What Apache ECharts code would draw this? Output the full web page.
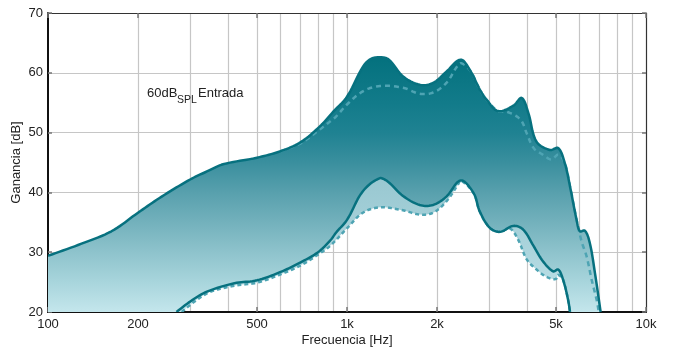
<!DOCTYPE html>
<html><head><meta charset="utf-8">
<script src="https://cdn.jsdelivr.net/npm/echarts@6/dist/echarts.min.js"></script>
<style>html,body{margin:0;padding:0;background:#fff}#c{width:673px;height:349px}</style>
</head><body><div id="c"></div>
<script>
// ---- Data ----
const xTickValues = [100, 200, 500, 1000, 2000, 5000, 10000];
const xTickLabels = ['100', '200', '500', '1k', '2k', '5k', '10k'];
const xGridValues = [200, 300, 400, 500, 600, 700, 800, 900, 1000, 2000, 3000, 4000, 5000, 6000, 7000, 8000, 9000];
const yMin = 20, yMax = 70, yStep = 10;

const upperSolidF  = [100, 126, 163, 200, 240, 300, 340, 385, 500, 600, 700, 810, 900, 1000, 1130, 1200, 1290, 1380, 1540, 1750, 1940, 2150, 2400, 2580, 2780, 2930, 3200, 3600, 3840, 4040, 4300, 4770, 5090, 5350, 5570, 5860, 6010, 6250, 6490, 6750, 7050];
const upperSolidDb = [29.4, 31.2, 33.5, 36.6, 39.3, 42.2, 43.5, 44.7, 45.8, 46.9, 48.4, 51.0, 53.5, 56.0, 61.0, 62.3, 62.6, 62.2, 59.4, 58.0, 58.3, 60.2, 62.2, 60.4, 57.2, 55.5, 53.6, 54.5, 55.8, 53.3, 48.5, 47.1, 47.4, 44.9, 41.0, 35.4, 33.5, 33.6, 31.5, 26.5, 20.0];

const upperDashF  = [600, 700, 810, 880, 920, 1000, 1130, 1290, 1540, 1750, 1940, 2150, 2400, 2580, 2780, 2930, 3200, 3420, 3800, 3990, 4210, 4520, 4830, 5090, 5350, 5570, 5860, 6090, 6330, 6580, 6840, 6950];
const upperDashDb = [46.9, 48.2, 50.5, 51.9, 52.7, 54.7, 56.9, 57.8, 57.5, 56.5, 56.7, 58.3, 61.6, 60.4, 57.2, 55.5, 53.6, 53.5, 52.2, 49.9, 47.4, 46.3, 45.5, 46.3, 44.9, 41.0, 35.4, 31.8, 29.3, 25.4, 22.0, 20.0];

const lowerSolidF  = [269, 300, 340, 420, 500, 600, 700, 800, 880, 920, 1000, 1130, 1290, 1370, 1540, 1750, 1940, 2150, 2400, 2650, 2780, 3000, 3250, 3600, 3880, 4210, 4520, 4890, 5090, 5280, 5490, 5570];
const lowerSolidDb = [20.0, 21.8, 23.4, 24.8, 25.3, 26.7, 28.3, 30.0, 32.0, 33.3, 35.4, 40.2, 42.4, 41.8, 39.4, 37.9, 37.9, 39.3, 42.0, 39.9, 36.8, 34.1, 33.4, 34.4, 33.8, 31.0, 28.5, 26.8, 27.1, 25.4, 22.0, 20.0];

const lowerDashF  = [280, 340, 420, 500, 600, 700, 800, 880, 1000, 1130, 1290, 1540, 1750, 1940, 2150, 2350, 2400, 2650, 2780, 3000, 3250, 3500, 3735, 3990, 4305, 4640, 4985, 5085, 5280, 5490, 5570];
const lowerDashDb = [20.0, 23.1, 24.4, 24.9, 26.3, 27.8, 29.6, 31.1, 34.0, 36.6, 37.5, 37.0, 36.3, 36.6, 38.5, 41.3, 42.0, 39.9, 36.8, 34.1, 33.4, 34.0, 32.1, 28.8, 27.1, 25.9, 25.5, 26.2, 25.4, 22.0, 20.0];

// ---- Style ----
const FONT = '"Liberation Sans", Arial, Helvetica, sans-serif';
const LINE = '#07717f';
const DASH = '#4ea4b3';
const SMOOTH = 0.35;
const STEPS = 10;

// Project a curve through the chart scales, then smooth it (same bezier rule for fills and strokes)
function curvePts(api, F, D) {
  const p = F.map((f, i) => api.coord([f, D[i]]));
  const n = p.length;
  if (n < 3) return p;
  let x0 = Infinity, y0 = Infinity, x1 = -Infinity, y1 = -Infinity;
  p.forEach(q => { x0 = Math.min(x0, q[0]); y0 = Math.min(y0, q[1]); x1 = Math.max(x1, q[0]); y1 = Math.max(y1, q[1]); });
  const clamp = c => [Math.min(Math.max(c[0], x0), x1), Math.min(Math.max(c[1], y0), y1)];
  const cps = [];
  for (let i = 0; i < n; i++) {
    if (i === 0 || i === n - 1) { cps.push([p[i][0], p[i][1]]); continue; }
    const pr = p[i - 1], nx = p[i + 1], pt = p[i];
    const vx = (nx[0] - pr[0]) * SMOOTH, vy = (nx[1] - pr[1]) * SMOOTH;
    let d0 = Math.hypot(pt[0] - pr[0], pt[1] - pr[1]);
    let d1 = Math.hypot(pt[0] - nx[0], pt[1] - nx[1]);
    const s = d0 + d1;
    if (s) { d0 /= s; d1 /= s; }
    cps.push(clamp([pt[0] - vx * d0, pt[1] - vy * d0]));
    cps.push(clamp([pt[0] + vx * d1, pt[1] + vy * d1]));
  }
  const out = [p[0]];
  for (let i = 0; i < n - 1; i++) {
    const a = p[i], b = p[i + 1], c0 = cps[2 * i], c1 = cps[2 * i + 1];
    for (let k = 1; k <= STEPS; k++) {
      const t = k / STEPS, u = 1 - t;
      out.push([
        u * u * u * a[0] + 3 * u * u * t * c0[0] + 3 * u * t * t * c1[0] + t * t * t * b[0],
        u * u * u * a[1] + 3 * u * u * t * c0[1] + 3 * u * t * t * c1[1] + t * t * t * b[1]
      ]);
    }
  }
  return out;
}

function gradient(api, stops) {
  const y70 = api.coord([1000, yMax])[1];
  const y20 = api.coord([1000, yMin])[1];
  return new echarts.graphic.LinearGradient(0, y70, 0, y20,
    stops.map(s => ({ offset: (yMax - s[0]) / (yMax - yMin), color: s[1] })), true);
}

const mainStops = [[70, '#026c7b'], [62, '#05727f'], [55, '#127b8a'], [50, '#1f8292'], [45, '#3a8f9e'], [40, '#58a0ad'], [35, '#73b1bc'], [30, '#8ec3cc'], [25, '#a8d5dc'], [20, '#c4e6ec']];
const lightStops = [[70, '#8fc1cb'], [45, '#96c6cf'], [40, '#9ccad3'], [30, '#acd5dd'], [20, '#c4e6ec']];

function band(upF, upD, loF, loD, stops) {
  return function (params, api) {
    const p = curvePts(api, upF, upD).concat(curvePts(api, loF, loD).reverse());
    p.push(api.coord([xTickValues[0], yMin]));
    return {
      type: 'polygon',
      shape: { points: p },
      style: { fill: gradient(api, stops), stroke: null }
    };
  };
}

function curve(F, D, color, dash) {
  return function (params, api) {
    return {
      type: 'polyline',
      shape: { points: curvePts(api, F, D) },
      style: { stroke: color, lineWidth: 2.5, fill: null, lineDash: dash || null, lineCap: 'butt', lineJoin: 'round' }
    };
  };
}

function customSeries(name, fn, z) {
  return { type: 'custom', name, coordinateSystem: 'cartesian2d', xAxisIndex: 0, yAxisIndex: 0, data: [[1000, 50]], renderItem: fn, clip: true, z, silent: true, animation: false };
}

const chart = echarts.init(document.getElementById('c'), null, { renderer: 'canvas' });
const labelMap = {};
xTickValues.forEach((v, i) => labelMap[v] = xTickLabels[i]);

chart.setOption({
  animation: false,
  backgroundColor: '#fff',
  textStyle: { fontFamily: FONT },
  grid: { left: 48, right: 27, top: 13, bottom: 37, containLabel: false, outerBoundsMode: 'none' },
  xAxis: [
    {
      type: 'log', logBase: 10, min: 100, max: 10000, position: 'bottom',
      name: 'Frecuencia [Hz]', nameLocation: 'middle', nameGap: 22, nameMoveOverlap: false,
      nameTextStyle: { fontSize: 13, color: '#222', fontFamily: FONT },
      axisLine: { show: true, onZero: false, lineStyle: { color: '#111', width: 2 } },
      axisTick: { show: true, inside: true, length: 5, customValues: xTickValues, lineStyle: { color: '#777', width: 1.5 } },
      axisLabel: { show: true, customValues: xTickValues, margin: 6, fontSize: 13, color: '#222', fontFamily: FONT, formatter: v => labelMap[Math.round(v)] || '' },
      splitLine: { show: false }
    },
    {
      type: 'log', logBase: 10, min: 100, max: 10000, position: 'top',
      axisLine: { show: true, onZero: false, lineStyle: { color: '#333', width: 1.2 } },
      axisTick: { show: true, inside: true, length: 5, customValues: xTickValues, lineStyle: { color: '#777', width: 1.5 } },
      axisLabel: { show: false },
      splitLine: { show: false }
    },
    {
      type: 'log', logBase: 10, min: 100, max: 10000, position: 'bottom', offset: 0,
      axisLine: { show: false },
      axisTick: { show: false, customValues: xGridValues },
      axisLabel: { show: false },
      splitLine: { show: true, lineStyle: { color: '#c6c6c6', width: 1.2 } }
    }
  ],
  yAxis: [
    {
      type: 'value', min: yMin, max: yMax, interval: yStep, position: 'left',
      name: 'Ganancia [dB]', nameLocation: 'middle', nameGap: 25, nameMoveOverlap: false,
      nameTextStyle: { fontSize: 13, color: '#222', fontFamily: FONT },
      axisLine: { show: true, onZero: false, lineStyle: { color: '#111', width: 2 } },
      axisTick: { show: true, inside: true, length: 4, lineStyle: { color: '#777', width: 1.5 } },
      axisLabel: { margin: 5, fontSize: 13, color: '#222', fontFamily: FONT },
      splitLine: { show: true, lineStyle: { color: '#c6c6c6', width: 1.2 } }
    },
    {
      type: 'value', min: yMin, max: yMax, interval: yStep, position: 'right',
      axisLine: { show: true, onZero: false, lineStyle: { color: '#333', width: 1.2 } },
      axisTick: { show: true, inside: true, length: 4, lineStyle: { color: '#777', width: 1.5 } },
      axisLabel: { show: false },
      splitLine: { show: false }
    }
  ],
  graphic: [
    { type: 'text', left: 147, top: 87, z: 100, style: { text: '60dB', font: '13px ' + FONT, fill: '#222' } },
    { type: 'text', left: 177, top: 95, z: 100, style: { text: 'SPL', font: '10.5px ' + FONT, fill: '#222' } },
    { type: 'text', left: 198, top: 87, z: 100, style: { text: 'Entrada', font: '13px ' + FONT, fill: '#222' } }
  ],
  series: [
    customSeries('banda-clara', band(upperSolidF, upperSolidDb, lowerDashF, lowerDashDb, lightStops), 1),
    customSeries('banda', band(upperSolidF, upperSolidDb, lowerSolidF, lowerSolidDb, mainStops), 2),
    customSeries('superior-discontinua', curve(upperDashF, upperDashDb, DASH, [5, 4]), 3),
    customSeries('inferior-discontinua', curve(lowerDashF, lowerDashDb, DASH, [4, 3]), 3),
    customSeries('superior', curve(upperSolidF, upperSolidDb, LINE), 4),
    customSeries('inferior', curve(lowerSolidF, lowerSolidDb, LINE), 4)
  ]
});
</script></body></html>
